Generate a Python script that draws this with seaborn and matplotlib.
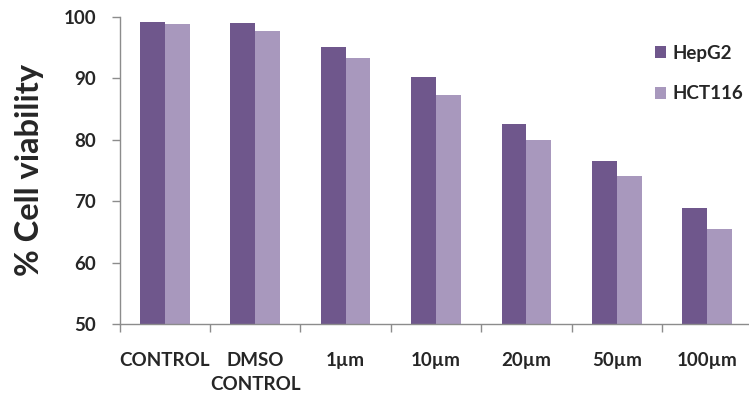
import matplotlib
matplotlib.use("Agg")
import matplotlib.pyplot as plt
from matplotlib.ticker import FixedLocator
import seaborn as sns
import pandas as pd

categories = ["CONTROL", "DMSO\nCONTROL", "1µm", "10µm", "20µm", "50µm", "100µm"]
hepg2 = [99.1, 98.9, 95.0, 90.2, 82.5, 76.6, 68.8]
hct116 = [98.8, 97.7, 93.2, 87.2, 80.0, 74.1, 65.4]
series_names = ["HepG2", "HCT116"]
colors = ["#6F578C", "#A898BD"]

df = pd.DataFrame({
    "category": categories * 2,
    "value": hepg2 + hct116,
    "line": [series_names[0]] * len(categories) + [series_names[1]] * len(categories),
})

sns.set_theme(style="white")
plt.rcParams["font.family"] = ["Lato", "DejaVu Sans"]

W, H = 749, 403
fig = plt.figure(figsize=(W / 100, H / 100), dpi=100)
left_px, right_px, top_px, bottom_px = 119.5, 752.5, 16.7, 324
ax = fig.add_axes([left_px / W, 1 - bottom_px / H,
                   (right_px - left_px) / W, (bottom_px - top_px) / H])

sns.barplot(data=df, x="category", y="value", hue="line", order=categories,
            hue_order=series_names, palette=colors, width=0.55, saturation=1,
            linewidth=0, ax=ax, legend=True)

ax.set_ylim(50, 100)
ax.set_xlim(-0.5, 6.5)
ax.set_yticks([50, 60, 70, 80, 90, 100])
ax.set_xlabel("")
ax.set_ylabel("% Cell viability", fontsize=23.5, fontweight="bold", labelpad=14)

for side in ["top", "right"]:
    ax.spines[side].set_visible(False)
for side in ["left", "bottom"]:
    ax.spines[side].set_color("#8c8c8c")
    ax.spines[side].set_linewidth(1.0)

ax.xaxis.set_minor_locator(FixedLocator([i - 0.5 for i in range(len(categories) + 1)]))
ax.tick_params(axis="x", which="major", length=0, pad=20, bottom=True)
ax.tick_params(axis="x", which="minor", length=6, color="#8c8c8c", width=1,
               direction="out", bottom=True)
ax.tick_params(axis="y", length=6, color="#8c8c8c", width=1, direction="out",
               pad=11, left=True)
ax.set_xticklabels(categories, fontsize=13.5, fontweight="bold", va="top", linespacing=1.5)
for lab in ax.get_yticklabels():
    lab.set_fontsize(13.5)
    lab.set_fontweight("bold")

leg = ax.legend(loc="upper left", bbox_to_anchor=(655 / W, 1 - 45 / H),
                bbox_transform=fig.transFigure, frameon=False,
                borderpad=0, borderaxespad=0,
                handlelength=0.6, handleheight=0.6, handletextpad=0.35,
                labelspacing=1.25, prop={"size": 13.5, "weight": "bold"})

fig.savefig("out.png", dpi=100)
